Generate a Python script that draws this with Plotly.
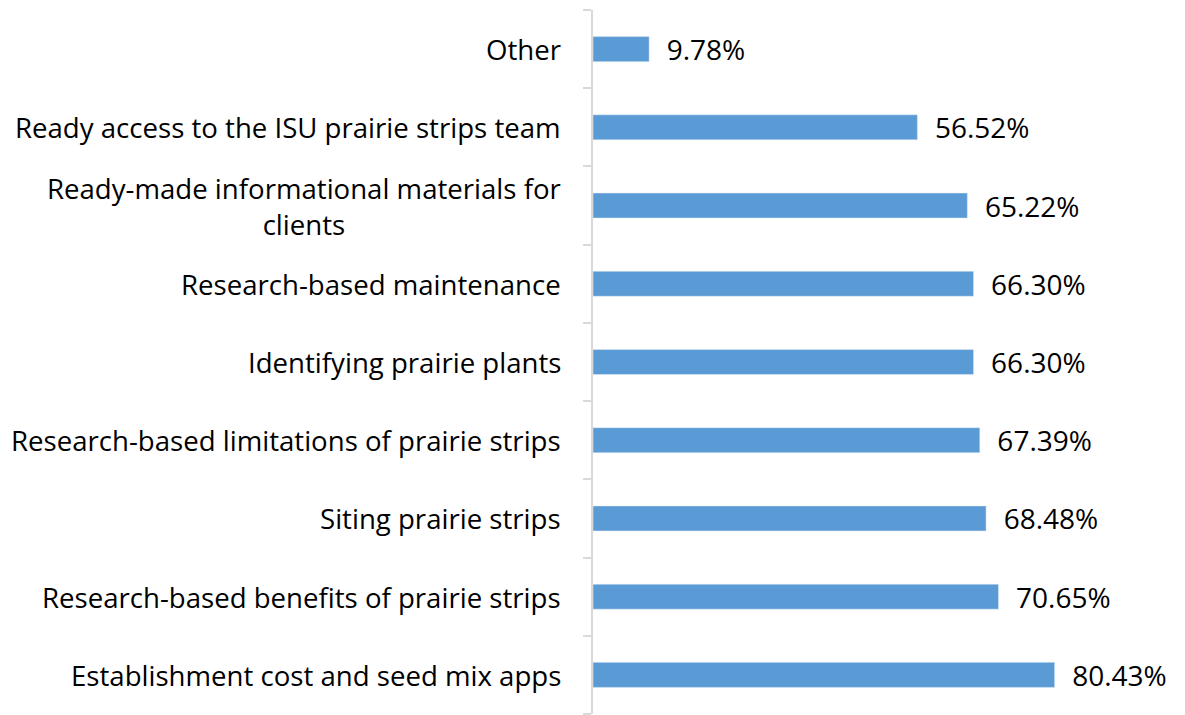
import plotly.graph_objects as go

categories = [
    "Establishment cost and seed mix apps",
    "Research-based benefits of prairie strips",
    "Siting prairie strips",
    "Research-based limitations of prairie strips",
    "Identifying prairie plants",
    "Research-based maintenance",
    "Ready-made informational materials for<br>clients",
    "Ready access to the ISU prairie strips team",
    "Other",
]
values = [80.43, 70.65, 68.48, 67.39, 66.30, 66.30, 65.22, 56.52, 9.78]

FONT = "Open Sans"

fig = go.Figure()
fig.add_trace(go.Bar(
    x=values,
    y=categories,
    orientation="h",
    marker_color="#5B9BD5",
    width=0.32,
    texttemplate="\u00a0\u00a0%{x:.2f}%",
    textposition="outside",
    constraintext="none",
    cliponaxis=False,
    textfont=dict(family=FONT, size=28, color="#000000"),
    hoverinfo="skip",
))

# category labels as annotations so the wrapped one is centred like the original
for cat in categories:
    fig.add_annotation(
        x=0, xref="paper", y=cat, yref="y",
        text=cat, showarrow=False,
        xanchor="right", xshift=-30, align="center",
        font=dict(family=FONT, size=27.6, color="#000000"),
    )

# the page body adds an 8px margin, so the figure is sized to fit inside it
fig.update_layout(
    width=1177,
    height=707,
    margin=dict(l=585, r=18, t=2, b=1),
    plot_bgcolor="white",
    paper_bgcolor="white",
    showlegend=False,
    font=dict(family=FONT, size=24, color="#000000"),
)
fig.update_xaxes(range=[0, 100], visible=False)
fig.update_yaxes(
    categoryorder="array",
    categoryarray=categories,
    showticklabels=False,
    showline=True,
    linecolor="#D9D9D9",
    linewidth=2,
    ticks="outside",
    tickson="boundaries",
    ticklen=8,
    tickcolor="#D9D9D9",
    tickwidth=2,
    showgrid=False,
    zeroline=False,
)

fig.write_html("out.html")
